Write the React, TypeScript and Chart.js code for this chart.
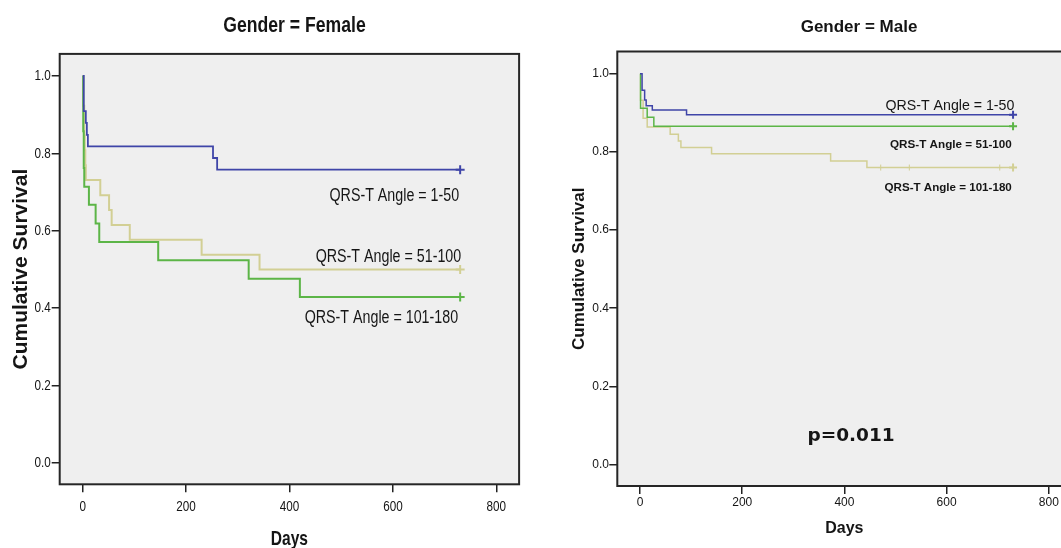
import React, { useEffect, useRef } from 'react';
import { Chart, registerables } from 'chart.js';

Chart.register(...registerables);

// ---------- axis ticks ----------
const xTickValues = [0, 200, 400, 600, 800];
const yTickValues = [0, 0.2, 0.4, 0.6, 0.8, 1.0];

// ---------- labels ----------
const groupLabels = ['QRS-T Angle = 1-50', 'QRS-T Angle = 51-100', 'QRS-T Angle = 101-180'];
const panelTitles = ['Gender = Female', 'Gender = Male'];
const pValueText = 'p=0.011';

// ---------- Female panel ----------
const femaleBlueDays = [0, 2, 6, 8, 10, 252, 260, 730];
const femaleBlueSurv = [1.0, 0.909, 0.879, 0.848, 0.818, 0.788, 0.758, 0.758];
const femaleGreenDays = [0, 1, 2, 3, 12, 25, 32, 146, 321, 420, 730];
const femaleGreenSurv = [1.0, 0.857, 0.762, 0.714, 0.667, 0.619, 0.571, 0.524, 0.476, 0.429, 0.429];
const femaleTanDays = [0, 1, 3, 4, 5, 6, 34, 51, 56, 91, 230, 342, 730];
const femaleTanSurv = [1.0, 0.923, 0.846, 0.808, 0.769, 0.731, 0.692, 0.654, 0.615, 0.577, 0.538, 0.5, 0.5];
const femaleBlueCensorDays = [730];
const femaleBlueCensorSurv = [0.758];
const femaleGreenCensorDays = [730];
const femaleGreenCensorSurv = [0.429];
const femaleTanCensorDays = [730];
const femaleTanCensorSurv = [0.5];

// ---------- Male panel ----------
const maleBlueDays = [0, 4, 9, 12, 24, 91, 730];
const maleBlueSurv = [1.0, 0.958, 0.933, 0.918, 0.907, 0.895, 0.895];
const maleGreenDays = [0, 1, 14, 27, 730];
const maleGreenSurv = [1.0, 0.912, 0.889, 0.866, 0.866];
const maleTanDays = [0, 1, 6, 14, 59, 75, 80, 140, 373, 444, 730];
const maleTanSurv = [1.0, 0.932, 0.886, 0.864, 0.845, 0.828, 0.811, 0.795, 0.777, 0.76, 0.76];
const maleBlueCensorDays = [730];
const maleBlueCensorSurv = [0.895];
const maleGreenCensorDays = [730];
const maleGreenCensorSurv = [0.866];
const maleTanCensorDays = [471, 527, 704, 730];
const maleTanCensorSurv = [0.76, 0.76, 0.76, 0.76];

// ---------- styles ----------
const BLUE = '#3f45a8';
const GREEN = '#5cb547';
const TAN = '#d2cf94';
const PLOT_BG = '#efefef';
const FRAME = '#262626';
const TEXT = '#151515';
const ARIAL = "'Liberation Sans', Arial, sans-serif";

const pts = (xs: number[], ys: number[]) => xs.map((x, i) => ({ x, y: ys[i] }));

function stepDataset(label: string, xs: number[], ys: number[], color: string, width: number) {
  return {
    label,
    data: pts(xs, ys),
    borderColor: color,
    backgroundColor: color,
    borderWidth: width,
    stepped: 'before' as const,
    pointRadius: 0,
    fill: false,
    tension: 0,
  };
}

function censorDataset(label: string, xs: number[], ys: number[], color: string, radii: number[], widths: number[]) {
  return {
    label,
    data: pts(xs, ys),
    borderColor: color,
    backgroundColor: color,
    showLine: false,
    pointStyle: 'cross' as const,
    pointRadius: radii,
    pointBorderWidth: widths,
    pointHoverRadius: radii,
  };
}

function drawSqueezed(
  ctx: CanvasRenderingContext2D,
  text: string,
  x: number,
  y: number,
  align: CanvasTextAlign,
  baseline: CanvasTextBaseline,
  sx: number
) {
  ctx.save();
  ctx.translate(x, y);
  ctx.scale(sx, 1);
  ctx.textAlign = align;
  ctx.textBaseline = baseline;
  ctx.fillText(text, 0, 0);
  ctx.restore();
}

type TextItem = {
  text: string;
  font: string;
  align: CanvasTextAlign;
  baseline?: CanvasTextBaseline;
  sx?: number;
  px?: number;
  py?: number;
  day?: number;
  surv?: number;
};

function makeTextPlugin(items: TextItem[]) {
  return {
    id: 'panelTexts',
    afterDatasetsDraw(chart: any) {
      const { ctx, scales } = chart;
      ctx.save();
      ctx.fillStyle = TEXT;
      for (const t of items) {
        const x = t.px !== undefined ? t.px : scales.x.getPixelForValue(t.day);
        const y = t.py !== undefined ? t.py : scales.y.getPixelForValue(t.surv);
        ctx.font = t.font;
        drawSqueezed(ctx, t.text, x, y, t.align, t.baseline || 'alphabetic', t.sx || 1);
      }
      ctx.restore();
    },
  };
}

// Condensed tick labels + x title for the (horizontally squeezed) female panel,
// positioned from Chart.js's own scales/ticks.
function makeSqueezedAxisPlugin(o: {
  tickFont: string;
  tickSx: number;
  xTickOffset: number;
  yTickGap: number;
  titleFont: string;
  titleSx: number;
  titleBaseline: number;
}) {
  return {
    id: 'squeezedAxis',
    afterDraw(chart: any) {
      const { ctx, scales, chartArea } = chart;
      ctx.save();
      ctx.fillStyle = TEXT;
      ctx.font = o.tickFont;
      scales.x.ticks.forEach((t: any) => {
        const label = t.label !== undefined ? String(t.label) : String(t.value);
        drawSqueezed(ctx, label, scales.x.getPixelForValue(t.value), chartArea.bottom + o.xTickOffset, 'center', 'alphabetic', o.tickSx);
      });
      scales.y.ticks.forEach((t: any) => {
        const label = t.label !== undefined ? String(t.label) : Number(t.value).toFixed(1);
        drawSqueezed(ctx, label, chartArea.left - o.yTickGap, scales.y.getPixelForValue(t.value), 'right', 'middle', o.tickSx);
      });
      ctx.font = o.titleFont;
      drawSqueezed(ctx, 'Days', (chartArea.left + chartArea.right) / 2, o.titleBaseline, 'center', 'alphabetic', o.titleSx);
      ctx.restore();
    },
  };
}

const framePlugin = {
  id: 'plotFrame',
  beforeDraw(chart: any) {
    const { ctx, chartArea: a } = chart;
    ctx.save();
    ctx.fillStyle = PLOT_BG;
    ctx.fillRect(a.left, a.top, a.right - a.left, a.bottom - a.top);
    ctx.restore();
  },
  beforeDatasetsDraw(chart: any) {
    const { ctx, chartArea: a } = chart;
    ctx.save();
    ctx.strokeStyle = FRAME;
    ctx.lineWidth = 2;
    ctx.strokeRect(a.left, a.top, a.right - a.left, a.bottom - a.top);
    ctx.restore();
  },
};

type PanelCfg = {
  padTop: number;
  padRight: number;
  yAxisWidth: number;
  xAxisHeight: number;
  showTickLabels: boolean;
  showXTitle: boolean;
  tickFont: any;
  xTickPad: number;
  yTickPad: number;
  xTitleFont: any;
  xTitlePadBottom: number;
  yTitleFont: any;
  yTitlePadTop: number;
};

function makeOptions(c: PanelCfg) {
  return {
    responsive: false,
    maintainAspectRatio: false,
    animation: false as const,
    events: [] as any[],
    layout: { padding: { top: c.padTop, right: c.padRight, left: 0, bottom: 0 } },
    plugins: {
      legend: { display: false },
      tooltip: { enabled: false },
      title: { display: false },
    },
    scales: {
      x: {
        type: 'linear' as const,
        min: -44.5,
        max: 844,
        afterBuildTicks: (s: any) => {
          s.ticks = xTickValues.map((v) => ({ value: v }));
        },
        afterFit: (s: any) => {
          s.height = c.xAxisHeight;
        },
        grid: { drawOnChartArea: false, drawTicks: true, tickLength: 8, color: '#222', lineWidth: 1.5 },
        border: { display: false },
        ticks: {
          display: c.showTickLabels,
          color: TEXT,
          font: c.tickFont,
          padding: c.xTickPad,
          maxRotation: 0,
          autoSkip: false,
          callback: (v: any) => String(v),
        },
        title: {
          display: c.showXTitle,
          text: 'Days',
          color: TEXT,
          font: c.xTitleFont,
          padding: { top: 0, bottom: c.xTitlePadBottom },
        },
      },
      y: {
        type: 'linear' as const,
        min: -0.055,
        max: 1.057,
        afterBuildTicks: (s: any) => {
          s.ticks = yTickValues.map((v) => ({ value: v }));
        },
        afterFit: (s: any) => {
          s.width = c.yAxisWidth;
        },
        grid: { drawOnChartArea: false, drawTicks: true, tickLength: 8, color: '#222', lineWidth: 1.5 },
        border: { display: false },
        ticks: {
          display: c.showTickLabels,
          color: TEXT,
          font: c.tickFont,
          padding: c.yTickPad,
          autoSkip: false,
          callback: (v: any) => Number(v).toFixed(1),
        },
        title: {
          display: true,
          text: 'Cumulative Survival',
          color: TEXT,
          font: c.yTitleFont,
          padding: { top: c.yTitlePadTop, bottom: 0 },
        },
      },
    },
  };
}

function useChart(ref: React.RefObject<HTMLCanvasElement>, build: () => any) {
  useEffect(() => {
    if (!ref.current) return;
    const chart = new Chart(ref.current, build());
    return () => chart.destroy();
  }, []);
}

export default function App() {
  const leftRef = useRef<HTMLCanvasElement>(null);
  const rightRef = useRef<HTMLCanvasElement>(null);

  useChart(leftRef, () => ({
    type: 'line',
    data: {
      datasets: [
        stepDataset(groupLabels[0], femaleBlueDays, femaleBlueSurv, BLUE, 1.8),
        stepDataset(groupLabels[1], femaleGreenDays, femaleGreenSurv, GREEN, 2),
        stepDataset(groupLabels[2], femaleTanDays, femaleTanSurv, TAN, 2),
        censorDataset(groupLabels[0] + ' censored', femaleBlueCensorDays, femaleBlueCensorSurv, BLUE, [4.5], [2]),
        censorDataset(groupLabels[1] + ' censored', femaleGreenCensorDays, femaleGreenCensorSurv, GREEN, [4.5], [2]),
        censorDataset(groupLabels[2] + ' censored', femaleTanCensorDays, femaleTanCensorSurv, TAN, [4.5], [2]),
      ],
    },
    options: makeOptions({
      padTop: 53.9,
      padRight: 10.9,
      yAxisWidth: 59.7,
      xAxisHeight: 63.7,
      showTickLabels: false,
      showXTitle: false,
      tickFont: { family: ARIAL, size: 15 },
      xTickPad: 4,
      yTickPad: 1,
      xTitleFont: { family: ARIAL, size: 20, weight: 'bold', lineHeight: 1 },
      xTitlePadBottom: 0.7,
      yTitleFont: { family: ARIAL, size: 21, weight: 'bold', lineHeight: 1.2 },
      yTitlePadTop: 8.4,
    }),
    plugins: [
      framePlugin,
      makeSqueezedAxisPlugin({
        tickFont: `15.2px ${ARIAL}`,
        tickSx: 0.77,
        xTickOffset: 26.5,
        yTickGap: 9,
        titleFont: `bold 20.5px ${ARIAL}`,
        titleSx: 0.76,
        titleBaseline: 544.5,
      }),
      makeTextPlugin([
        { text: panelTitles[0], font: `bold 22px ${ARIAL}`, align: 'center', sx: 0.8, px: 294.5, py: 32.3 },
        { text: groupLabels[0], font: `17.5px ${ARIAL}`, align: 'right', sx: 0.815, day: 728, surv: 0.678 },
        { text: groupLabels[1], font: `17.5px ${ARIAL}`, align: 'right', sx: 0.815, day: 732, surv: 0.52 },
        { text: groupLabels[2], font: `17.5px ${ARIAL}`, align: 'right', sx: 0.815, day: 726, surv: 0.361 },
      ]),
    ],
  }));

  useChart(rightRef, () => ({
    type: 'line',
    data: {
      datasets: [
        stepDataset(groupLabels[0], maleBlueDays, maleBlueSurv, BLUE, 1.5),
        stepDataset(groupLabels[1], maleGreenDays, maleGreenSurv, GREEN, 1.5),
        stepDataset(groupLabels[2], maleTanDays, maleTanSurv, TAN, 1.5),
        censorDataset(groupLabels[0] + ' censored', maleBlueCensorDays, maleBlueCensorSurv, BLUE, [4], [2]),
        censorDataset(groupLabels[1] + ' censored', maleGreenCensorDays, maleGreenCensorSurv, GREEN, [4], [2]),
        censorDataset(groupLabels[2] + ' censored', maleTanCensorDays, maleTanCensorSurv, TAN, [3, 3, 3, 4], [1, 1, 1, 2]),
      ],
    },
    options: makeOptions({
      padTop: 51.5,
      padRight: 13.7,
      yAxisWidth: 77.3,
      xAxisHeight: 62,
      showTickLabels: true,
      showXTitle: true,
      tickFont: { family: ARIAL, size: 12 },
      xTickPad: 1.5,
      yTickPad: 0.3,
      xTitleFont: { family: ARIAL, size: 16, weight: 'bold', lineHeight: 1.2 },
      xTitlePadBottom: 9.6,
      yTitleFont: { family: ARIAL, size: 17, weight: 'bold', lineHeight: 1.2 },
      yTitlePadTop: 28.8,
    }),
    plugins: [
      framePlugin,
      makeTextPlugin([
        { text: panelTitles[1], font: `bold 17px ${ARIAL}`, align: 'center', px: 319, py: 31.7 },
        { text: groupLabels[0], font: `14.2px ${ARIAL}`, align: 'right', day: 732.6, surv: 0.907 },
        { text: groupLabels[1], font: `bold 11.7px ${ARIAL}`, align: 'right', day: 727.5, surv: 0.809 },
        { text: groupLabels[2], font: `bold 11.6px ${ARIAL}`, align: 'right', day: 727.5, surv: 0.701 },
        { text: pValueText, font: `bold 18.5px 'DejaVu Sans', sans-serif`, align: 'center', baseline: 'middle', day: 413, surv: 0.073 },
      ]),
    ],
  }));

  return (
    <div
      style={{
        position: 'fixed',
        left: 0,
        top: 0,
        width: 1061,
        height: 548,
        overflow: 'hidden',
        background: '#ffffff',
      }}
    >
      <canvas
        ref={leftRef}
        width={530}
        height={548}
        style={{ position: 'absolute', left: 0, top: 0, width: 530, height: 548, display: 'block' }}
      />
      <canvas
        ref={rightRef}
        width={545}
        height={548}
        style={{ position: 'absolute', left: 540, top: 0, width: 545, height: 548, display: 'block' }}
      />
    </div>
  );
}
